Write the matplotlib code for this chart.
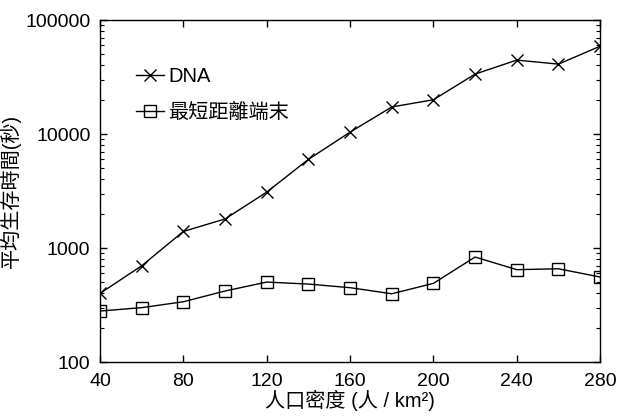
import matplotlib.pyplot as plt
from matplotlib.ticker import FixedLocator, LogLocator, NullFormatter

plt.rcParams['font.family'] = ['Liberation Sans', 'Noto Sans CJK TC', 'DejaVu Sans']

# population density (people / km^2)
density = [40, 60, 80, 100, 120, 140, 160, 180, 200, 220, 240, 260, 280]

# mean survival time (s)
dna = [400, 700, 1400, 1800, 3100, 6000, 10400, 17300, 20000, 33600, 44600, 41100, 59000]
nearest_end = [280, 300, 338, 420, 503, 483, 449, 397, 490, 834, 646, 658, 557]

series_labels = ['DNA', '最短距離端末']
x_ticks = [40, 80, 120, 160, 200, 240, 280]
y_ticks = [100, 1000, 10000, 100000]

fig = plt.figure(figsize=(6.18, 4.19), dpi=100)
ax = fig.add_axes([0.162, 0.136, 0.809, 0.816])

ax.plot(density, dna, color='black', lw=1.0, marker='x', ms=8, mew=1.0,
        label=series_labels[0])
ax.plot(density, nearest_end, color='black', lw=1.0, marker='s', ms=9,
        mfc='none', mew=1.0, label=series_labels[1])

ax.set_yscale('log')
ax.set_xlim(40, 280)
ax.set_ylim(100, 100000)
ax.xaxis.set_major_locator(FixedLocator(x_ticks))
ax.yaxis.set_major_locator(FixedLocator(y_ticks))
ax.yaxis.set_minor_locator(LogLocator(base=10, subs=range(2, 10)))
ax.yaxis.set_minor_formatter(NullFormatter())
ax.set_yticklabels([str(v) for v in y_ticks])

ax.tick_params(which='both', direction='in', top=True, right=True, labelsize=14)
ax.tick_params(which='major', length=5, width=1)
ax.tick_params(which='minor', length=3, width=0.8)
ax.tick_params(axis='y', which='major', pad=7)
ax.tick_params(axis='x', which='major', pad=8)
for s in ax.spines.values():
    s.set_linewidth(1.0)

ax.set_xlabel('人口密度 (人 / km²)', fontsize=14.5, labelpad=0)
ax.set_ylabel('平均生存時間(秒)', fontsize=14.5, labelpad=3)

ax.legend(loc='upper left', bbox_to_anchor=(0.035, 0.915), frameon=False,
          fontsize=14.5, handlelength=1.4, handletextpad=0.2, labelspacing=0.85)

fig.savefig('out.png', dpi=100)
